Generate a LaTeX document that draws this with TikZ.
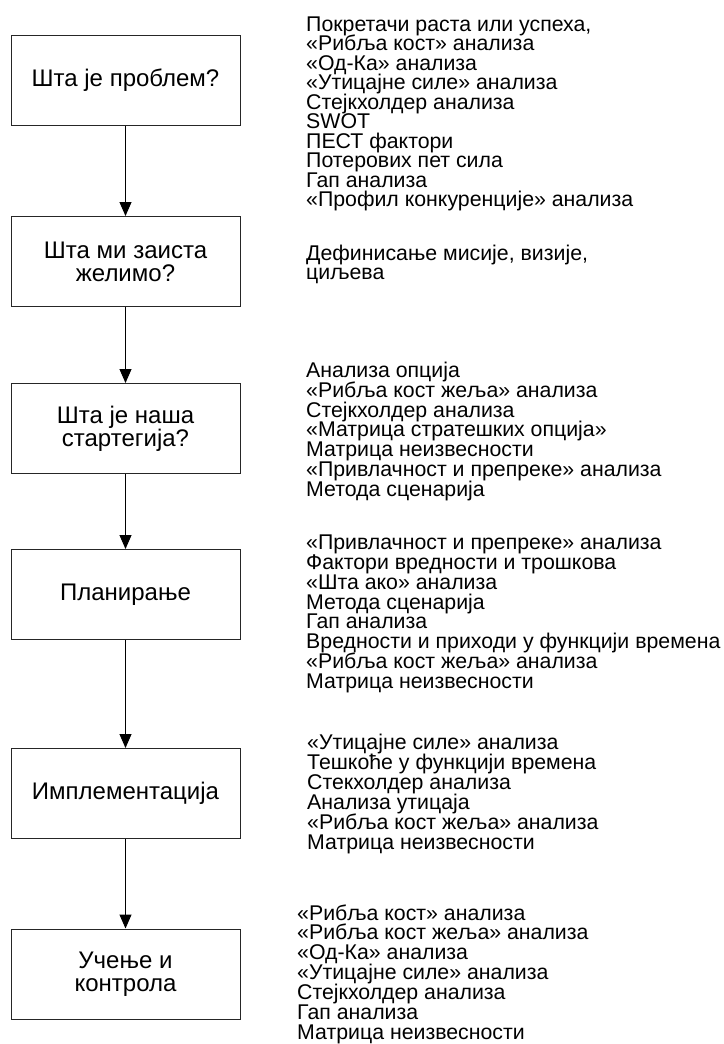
\documentclass[tikz,border=0pt]{standalone}
\usepackage{fontspec}
\setmainfont{Liberation Sans}
\usetikzlibrary{arrows.meta}
\begin{document}
\begin{tikzpicture}[x=1pt,y=-1pt,
    stage/.style={draw=black!85,line width=1pt,minimum width=229pt,minimum height=90pt,align=center,font=\fontsize{24}{23}\selectfont},
    tool/.style={anchor=base west,inner sep=0pt,font=\fontsize{21.3}{20}\selectfont},
    flow/.style={line width=1pt,-{Triangle[width=12pt,length=14pt]}}]
    \useasboundingbox (0,0) rectangle (723,1044);
    % stages on the left
    \foreach \n/\y/\t in {1/80/{Шта је проблем?},2/261.5/{Шта ми заиста\\желимо?},3/428.5/{Шта је наша\\стартегија?},4/594.5/{Планирање},5/793.5/{Имплементација},6/974/{Учење и\\контрола}} {
        \node[stage] (q\n) at (125.5,\y) {\t};
    }
    \foreach \a/\b in {1/2,2/3,3/4,4/5,5/6} \draw[flow] (q\a) -- (q\b);
    % tools for each stage
    \foreach \t [count=\i from 0] in {{Покретачи раста или успеха,},«Рибља кост» анализа,«Од-Ка» анализа,«Утицајне силе» анализа,Стејкхолдер анализа,SWOT,ПЕСТ фактори,Потерових пет сила,Гап анализа,«Профил конкуренције» анализа}
        \node[tool] (a\i) at (306,31.5+19.44*\i) {\t};
    \foreach \t [count=\i from 0] in {{Дефинисање мисије, визије,},циљева}
        \node[tool] (b\i) at (306,260+19.6*\i) {\t};
    \foreach \t [count=\i from 0] in {Анализа опција,«Рибља кост жеља» анализа,Стејкхолдер анализа,«Матрица стратешких опција»,Матрица неизвесности,«Привлачност и препреке» анализа,Метода сценарија}
        \node[tool] (c\i) at (306,377.5+19.83*\i) {\t};
    \foreach \t [count=\i from 0] in {«Привлачност и препреке» анализа,Фактори вредности и трошкова,«Шта ако» анализа,Метода сценарија,Гап анализа,Вредности и приходи у функцији времена,«Рибља кост жеља» анализа,Матрица неизвесности}
        \node[tool] (d\i) at (306,549.5+19.86*\i) {\t};
    \foreach \t [count=\i from 0] in {«Утицајне силе» анализа,Тешкоће у функцији времена,Стекхолдер анализа,Анализа утицаја,«Рибља кост жеља» анализа,Матрица неизвесности}
        \node[tool] (e\i) at (307,749.5+20*\i) {\t};
    \foreach \t [count=\i from 0] in {«Рибља кост» анализа,«Рибља кост жеља» анализа,«Од-Ка» анализа,«Утицајне силе» анализа,Стејкхолдер анализа,Гап анализа,Матрица неизвесности}
        \node[tool] (f\i) at (297,920+19.9*\i) {\t};
\end{tikzpicture}
\end{document}
